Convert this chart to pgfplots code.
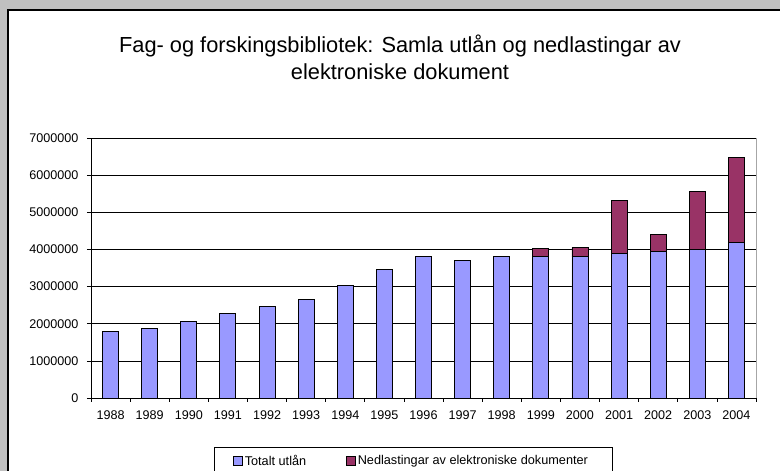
\documentclass[border=0pt]{standalone}
\usepackage{pgfplots}
\pgfplotsset{compat=1.18}
\usepackage{fontspec}
\setmainfont{Liberation Sans}
\definecolor{bblue}{HTML}{9999FF}
\definecolor{bpurp}{HTML}{993366}
\definecolor{bggray}{HTML}{C0C0C0}
\begin{document}
\begin{tikzpicture}[x=1pt,y=1pt]
\clip (0,0) rectangle (780,471);
\fill[bggray] (0,0) rectangle (780,471);
\fill[white] (8,-20) rectangle (800,461);
\draw[black,line width=1.3pt] (8,-20) -- (8,461) -- (800,461);
\node[anchor=base,font=\fontsize{21.8}{26}\selectfont] at (400,418) {Fag- og forskingsbibliotek: Samla utlån og nedlastingar av};
\node[anchor=base,font=\fontsize{21.8}{26}\selectfont] at (400,391) {elektroniske dokument};
\begin{axis}[
  at={(91pt,73pt)}, anchor=south west,
  scale only axis, width=665pt, height=260pt,
  ybar stacked, bar width=16pt,
  xmin=-0.5, xmax=16.5, ymin=0, ymax=7000000,
  xtick={0,...,16},
  xticklabels={1988,1989,1990,1991,1992,1993,1994,1995,1996,1997,1998,1999,2000,2001,2002,2003,2004},
  major x tick style={draw=none},
  minor xtick={-0.5,0.5,...,16.5},
  minor tick length=4pt,
  ytick={0,1000000,...,7000000},
  major tick length=4pt,
  tick align=outside,
  tick style={black, line width=0.7pt},
  scaled y ticks=false,
  yticklabel={\pgfmathprintnumber[fixed,precision=0,1000 sep={}]{\tick}},
  /pgf/number format/assume math mode=true,
  ticklabel style={font=\fontsize{12.6}{14}\selectfont},
  yticklabel style={xshift=-5pt},
  xticklabel style={yshift=-5pt},
  ymajorgrids, grid style={black, line width=0.6pt},
  axis x line*=bottom, axis y line*=left,
  axis line style={black, line width=0.8pt, -},
  legend columns=2,
  legend style={at={(0.2135,-0.2423)}, anchor=west, draw=none, fill=none,
    font=\fontsize{12.7}{15}\selectfont, inner sep=0pt,
    /tikz/every even column/.append style={column sep=38pt}},
  legend cell align=left,
  legend image code/.code={\draw[#1,draw=black,line width=0.6pt] (0pt,-4.5pt) rectangle (9pt,4.5pt);},
]
\addplot[fill=bblue, draw=black, line width=0.9pt] coordinates {
(0,1800000) (1,1880000) (2,2065000) (3,2270000) (4,2460000) (5,2665000) (6,3025000) (7,3470000) (8,3820000) (9,3690000) (10,3820000) (11,3820000) (12,3800000) (13,3880000) (14,3940000) (15,4010000) (16,4200000)};
\addplot[fill=bpurp, draw=black, line width=0.9pt] coordinates {
(0,0) (1,0) (2,0) (3,0) (4,0) (5,0) (6,0) (7,0) (8,0) (9,0) (10,0) (11,210000) (12,250000) (13,1440000) (14,470000) (15,1540000) (16,2270000)};
\legend{Totalt utlån, Nedlastingar av elektroniske dokumenter}
\end{axis}
\draw[gray!70, line width=0.8pt] (756,73) -- (756,333);
\draw[black, line width=0.8pt] (214,-10) -- (214,24) -- (612,24) -- (612,-10);
\end{tikzpicture}
\end{document}
